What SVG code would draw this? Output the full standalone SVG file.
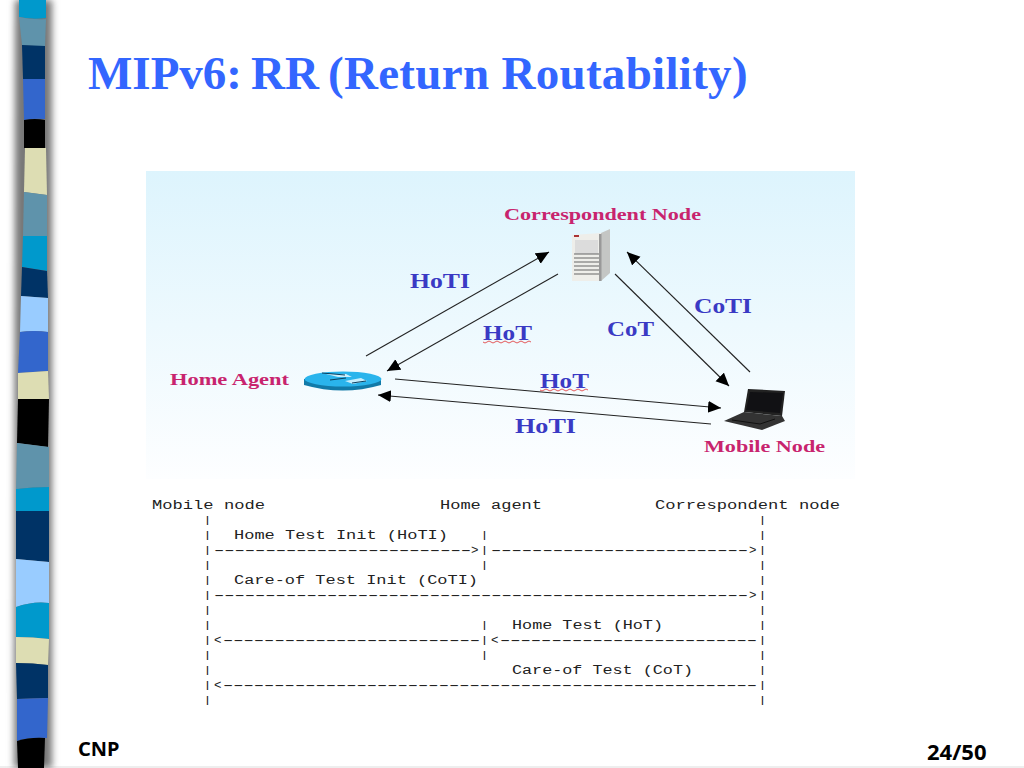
<svg xmlns="http://www.w3.org/2000/svg" width="1024" height="768" viewBox="0 0 1024 768">
<style>
.title{font:bold 47px "Liberation Serif",serif;fill:#3366ff}
.foot{font:bold 20px "Noto Sans",sans-serif;fill:#000}
.page{font:bold 22px "Noto Sans",sans-serif;fill:#000}
.name{font:bold 16px "Liberation Serif",serif;fill:#c8246e}
.msg{font:bold 20px "Liberation Serif",serif;fill:#3a3ac4}
.mono{font:12.5px "Liberation Mono",monospace;fill:#222;white-space:pre}
.dash{font:12.5px "Liberation Sans",sans-serif;fill:#222}
.bar{font:bold 9px "Liberation Mono",monospace;fill:#222;text-anchor:middle}
.wire{fill:none;stroke:#222;stroke-width:1.1;}
.arrowed{marker-end:url(#tip)}
.squig{fill:none;stroke:#e03030;stroke-width:.8}
</style>
<defs>
<linearGradient id="panel" x1="0" y1="0" x2="0" y2="1"><stop offset="0" stop-color="#ddf4fd"/><stop offset="1" stop-color="#fdfeff"/></linearGradient>
<filter id="soft" x="-100%" y="-5%" width="300%" height="110%"><feGaussianBlur stdDeviation="3.5"/></filter>
<marker id="tip" markerUnits="userSpaceOnUse" markerWidth="16" markerHeight="14" refX="13" refY="6" orient="auto"><path d="M0 0L13 6L0 12z" fill="#000"/></marker>
</defs>
<rect width="1024" height="768" fill="#fff"/>
<rect x="0" y="766" width="1024" height="2" fill="#eeeeee"/>
<g id="strip">
<path d="M15 0H52V768H14Z" fill="#777" filter="url(#soft)"/>
<path d="M19 0H46V18Q33 20 19 17Z" fill="#0099cc"/>
<path d="M19 17Q33 20 46 19L45 47L22 45Z" fill="#5f93ab"/>
<path d="M22 45L45 46V79H23Z" fill="#003366"/>
<path d="M23 79H45V119Q35 118 24 120Z" fill="#3366cc"/>
<path d="M24 120Q35 118 45 120V148H24Z" fill="#000"/>
<path d="M25 148H46L47 195L24 192Z" fill="#ddddb3"/>
<path d="M24 192L47 195V236H23Z" fill="#5f93ab"/>
<path d="M23 236H47V271L22 267Z" fill="#0099cc"/>
<path d="M22 267L47 271L48 298L21 296Z" fill="#003366"/>
<path d="M21 296L48 298V332Q34 330 20 332Z" fill="#99ccff"/>
<path d="M20 332Q34 330 48 332V371L18 373Z" fill="#3366cc"/>
<path d="M18 373L48 371L49 399H18Z" fill="#ddddb3"/>
<path d="M18 399H49L48 447L17 443Z" fill="#000"/>
<path d="M17 443L49 447V487Q33 487 16 489Z" fill="#5f93ab"/>
<path d="M16 489Q33 487 49 487V511H16Z" fill="#0099cc"/>
<path d="M16 511H49V562L16 559Z" fill="#003366"/>
<path d="M16 559L49 562V603Q33 601 16 607Z" fill="#99ccff"/>
<path d="M16 607Q33 601 49 603V639Q33 637 16 637Z" fill="#0099cc"/>
<path d="M16 637Q33 637 49 639L48 665Q33 663 16 663Z" fill="#ddddb3"/>
<path d="M16 663Q33 663 48 665V698L17 699Z" fill="#003366"/>
<path d="M17 699L48 698L47 738Q30 737 17 741Z" fill="#3366cc"/>
<path d="M17 741Q30 737 45 738L44 768H18Z" fill="#000"/>
</g>
<text class="title" x="88" y="89">MIPv6: <tspan x="251">RR </tspan><tspan x="328" letter-spacing=".3">(Return Routability)</tspan></text>
<rect id="panel-bg" x="146" y="171" width="709" height="308" fill="url(#panel)"/>
<g id="connectors">
<path class="wire arrowed" d="M366 356L549 252"/>
<path class="wire arrowed" d="M558 274L387 371"/>
<path class="wire arrowed" d="M395 379L721 408"/>
<path class="wire arrowed" d="M711 424L378 395"/>
<path class="wire arrowed" d="M615 274L729 386"/>
<path class="wire arrowed" d="M750 372L627 252"/>
</g>
<g id="correspondent-node">
<path d="M572 235L601 233V281L572 281Z" fill="#eeeeea"/>
<path d="M601 233L610 229V273L601 281Z" fill="#c4c6c4"/>
<path d="M599 234h2.500v47h-2.500z" fill="#999"/>
<path d="M575 240h23v14h-23z" fill="#dcdcdc"/>
<path d="M574 254h25M574 258h25M574 262h25M574 266h25M574 270h25M574 274h25" stroke="#666" stroke-width="1.200"/>
<path d="M574 235h5v2h-5z" fill="#a33"/>
<text class="name" x="504" y="220" textLength="197" lengthAdjust="spacingAndGlyphs">Correspondent Node</text>
</g>
<g id="home-agent">
<path d="M304 379V385Q343 396 381 385V379Z" fill="#127aa8"/>
<ellipse cx="343" cy="379" rx="38.500" ry="7.500" fill="#2ab4ec"/>
<path d="M326 374h20l6 3h-14zM345 381l16-3l6 3l-14 3z" fill="#c8eefc"/>
<path d="M322 373L345 375M330 380L346 378M352 383L366 381" stroke="#0b4060" stroke-width="1.200" fill="none"/>
<text class="name" x="170" y="385" textLength="119" lengthAdjust="spacingAndGlyphs">Home Agent</text>
</g>
<g id="mobile-node">
<path d="M748 389L785 391L782 416L744 412Z" fill="#222"/>
<path d="M750 392L783 393L780 413L746 410Z" fill="#111114"/>
<path d="M744 412L782 416L785 421L762 430L724 421Z" fill="#333"/>
<path d="M732 420L760 424L775 419" stroke="#111" fill="none"/>
<text class="name" x="704" y="452" textLength="121" lengthAdjust="spacingAndGlyphs">Mobile Node</text>
</g>
<g id="labels">
<text class="msg" x="410" y="288" textLength="60" lengthAdjust="spacingAndGlyphs">HoTI</text>
<text class="msg" x="483" y="340" textLength="49" lengthAdjust="spacingAndGlyphs">HoT</text>
<path class="squig" d="M483 342q2 2 4 0t4 0t4 0t4 0t4 0t4 0t4 0t4 0t4 0t4 0t4 0t4 0"/>
<text class="msg" x="607" y="336" textLength="47" lengthAdjust="spacingAndGlyphs">CoT</text>
<text class="msg" x="694" y="313" textLength="58" lengthAdjust="spacingAndGlyphs">CoTI</text>
<text class="msg" x="540" y="388" textLength="49" lengthAdjust="spacingAndGlyphs">HoT</text>
<path class="squig" d="M540 390q2 2 4 0t4 0t4 0t4 0t4 0t4 0t4 0t4 0t4 0t4 0t4 0t4 0"/>
<text class="msg" x="515" y="433" textLength="61" lengthAdjust="spacingAndGlyphs">HoTI</text>
</g>
<g id="flow-text">
<text class="mono" x="152" y="509" textLength="113" lengthAdjust="spacingAndGlyphs">Mobile node</text>
<text class="mono" x="440" y="509" textLength="102" lengthAdjust="spacingAndGlyphs">Home agent</text>
<text class="mono" x="655" y="509" textLength="185" lengthAdjust="spacingAndGlyphs">Correspondent node</text>
<text class="bar" x="207.500 207.500 207.500 207.500 207.500 207.500 207.500 207.500 207.500 207.500 207.500 207.500 207.500 207.500" y="523 538 553 568 583 598 613 628 643 658 673 688 703">|||||||||||||</text>
<text class="bar" x="484.500 484.500 484.500 484.500 484.500 484.500" y="538 553 568 628 643 658">||||||</text>
<text class="bar" x="762.500 762.500 762.500 762.500 762.500 762.500 762.500 762.500 762.500 762.500 762.500 762.500 762.500" y="523 538 553 568 583 598 613 628 643 658 673 688 703">|||||||||||||</text>
<text class="mono" x="234" y="539" textLength="214" lengthAdjust="spacingAndGlyphs">Home Test Init (HoTI)</text>
<text class="dash" x="214" y="554" textLength="257" lengthAdjust="spacingAndGlyphs">-------------------------</text>
<text class="mono" x="471" y="554">&gt;</text>
<text class="dash" x="491" y="554" textLength="257" lengthAdjust="spacingAndGlyphs">-------------------------</text>
<text class="mono" x="749" y="554">&gt;</text>
<text class="mono" x="234" y="584" textLength="244" lengthAdjust="spacingAndGlyphs">Care-of Test Init (CoTI)</text>
<text class="dash" x="214" y="599" textLength="534" lengthAdjust="spacingAndGlyphs">----------------------------------------------------</text>
<text class="mono" x="749" y="599">&gt;</text>
<text class="mono" x="512" y="629" textLength="151" lengthAdjust="spacingAndGlyphs">Home Test (HoT)</text>
<text class="mono" x="214" y="644">&lt;</text>
<text class="dash" x="223" y="644" textLength="257" lengthAdjust="spacingAndGlyphs">-------------------------</text>
<text class="mono" x="491" y="644">&lt;</text>
<text class="dash" x="500" y="644" textLength="257" lengthAdjust="spacingAndGlyphs">-------------------------</text>
<text class="mono" x="512" y="674" textLength="181" lengthAdjust="spacingAndGlyphs">Care-of Test (CoT)</text>
<text class="mono" x="214" y="689">&lt;</text>
<text class="dash" x="223" y="689" textLength="534" lengthAdjust="spacingAndGlyphs">----------------------------------------------------</text>
</g>
<text class="foot" x="78" y="756">CNP</text>
<text class="page" x="927" y="760">24/50</text>
</svg>
